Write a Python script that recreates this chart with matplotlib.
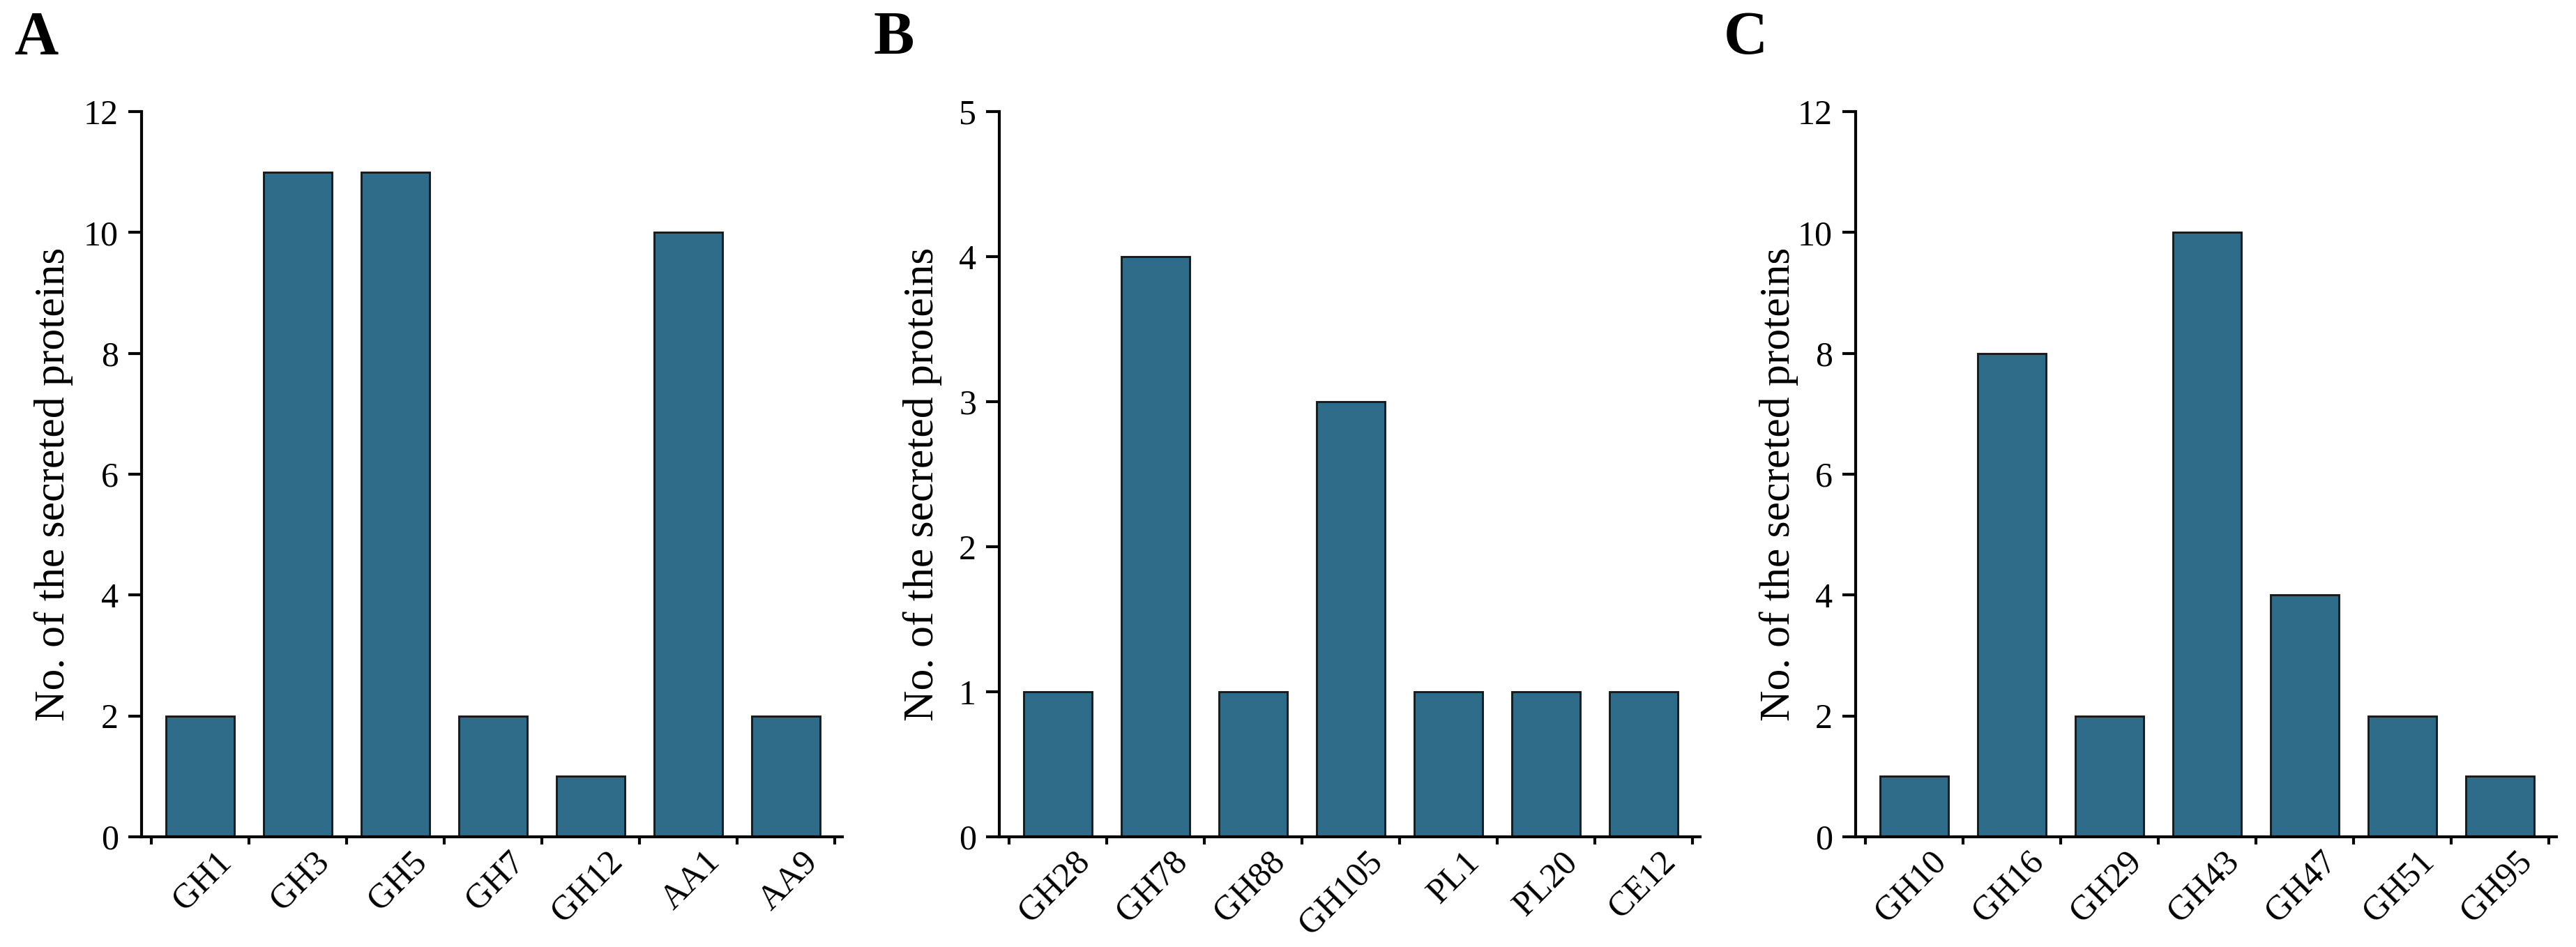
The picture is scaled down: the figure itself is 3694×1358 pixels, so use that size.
import matplotlib
matplotlib.use("Agg")
import matplotlib.pyplot as plt
import matplotlib.transforms as mtransforms
import numpy as np

plt.rcParams['font.family'] = ['Liberation Serif', 'DejaVu Serif']

# panel A
fam_a = ["GH1", "GH3", "GH5", "GH7", "GH12", "AA1", "AA9"]
cnt_a = [2, 11, 11, 2, 1, 10, 2]
# panel B
fam_b = ["GH28", "GH78", "GH88", "GH105", "PL1", "PL20", "CE12"]
cnt_b = [1, 4, 1, 3, 1, 1, 1]
# panel C
fam_c = ["GH10", "GH16", "GH29", "GH43", "GH47", "GH51", "GH95"]
cnt_c = [1, 8, 2, 10, 4, 2, 1]

panels = [
    ("A", fam_a, cnt_a, 12, [0, 2, 4, 6, 8, 10, 12]),
    ("B", fam_b, cnt_b, 5, [0, 1, 2, 3, 4, 5]),
    ("C", fam_c, cnt_c, 12, [0, 2, 4, 6, 8, 10, 12]),
]

bar_color = "#2e6c8a"
W, H = 3694, 1358
fig = plt.figure(figsize=(W / 300, H / 300), dpi=300)

lefts = [203, 1433, 2661]
label_x = [20, 1252, 2472]
ylab_pos = [-0.0975, -0.0816, -0.0816]
ax_w = 1005
y_top, y_bot = 160, 1200

for i, (tag, fams, counts, ymax, yticks) in enumerate(panels):
    ax = fig.add_axes([lefts[i] / W, 1 - y_bot / H, ax_w / W, (y_bot - y_top) / H])
    x = np.arange(len(fams))
    ax.bar(x, counts, width=0.7, color=bar_color, edgecolor="#1a1a1a", linewidth=0.7, zorder=2)

    ax.set_ylim(0, ymax)
    ax.set_xlim(-0.598, len(fams) - 0.42)
    ax.set_yticks(yticks)
    ax.tick_params(axis="y", direction="out", length=4.5, width=1.0, pad=3.4, labelsize=12)

    # ticks sit between bars, labels at bar centres
    ax.set_xticks(np.arange(len(fams) + 1) - 0.5)
    ax.set_xticklabels([])
    ax.set_xticks(x, minor=True)
    ax.set_xticklabels(fams, minor=True, rotation=45, ha="right", va="top",
                       rotation_mode="anchor", fontsize=12)
    ax.tick_params(axis="x", which="major", direction="out", length=2.6, width=1.0)
    ax.tick_params(axis="x", which="minor", length=0, pad=3.0)
    shift = mtransforms.ScaledTranslation(22 / 300, 0, fig.dpi_scale_trans)
    for lab in ax.get_xticklabels(minor=True):
        lab.set_transform(lab.get_transform() + shift)

    for s in ["top", "right"]:
        ax.spines[s].set_visible(False)
    for s in ["left", "bottom"]:
        ax.spines[s].set_linewidth(1.0)

    ax.set_ylabel("No. of the secreted proteins", fontsize=14.8)
    ax.yaxis.set_label_coords(ylab_pos[i], 0.486)

    fig.text(label_x[i] / W, 1 - 77 / H, tag, fontsize=21, fontweight="bold",
             ha="left", va="baseline")

fig.savefig("out.png", dpi=300)
